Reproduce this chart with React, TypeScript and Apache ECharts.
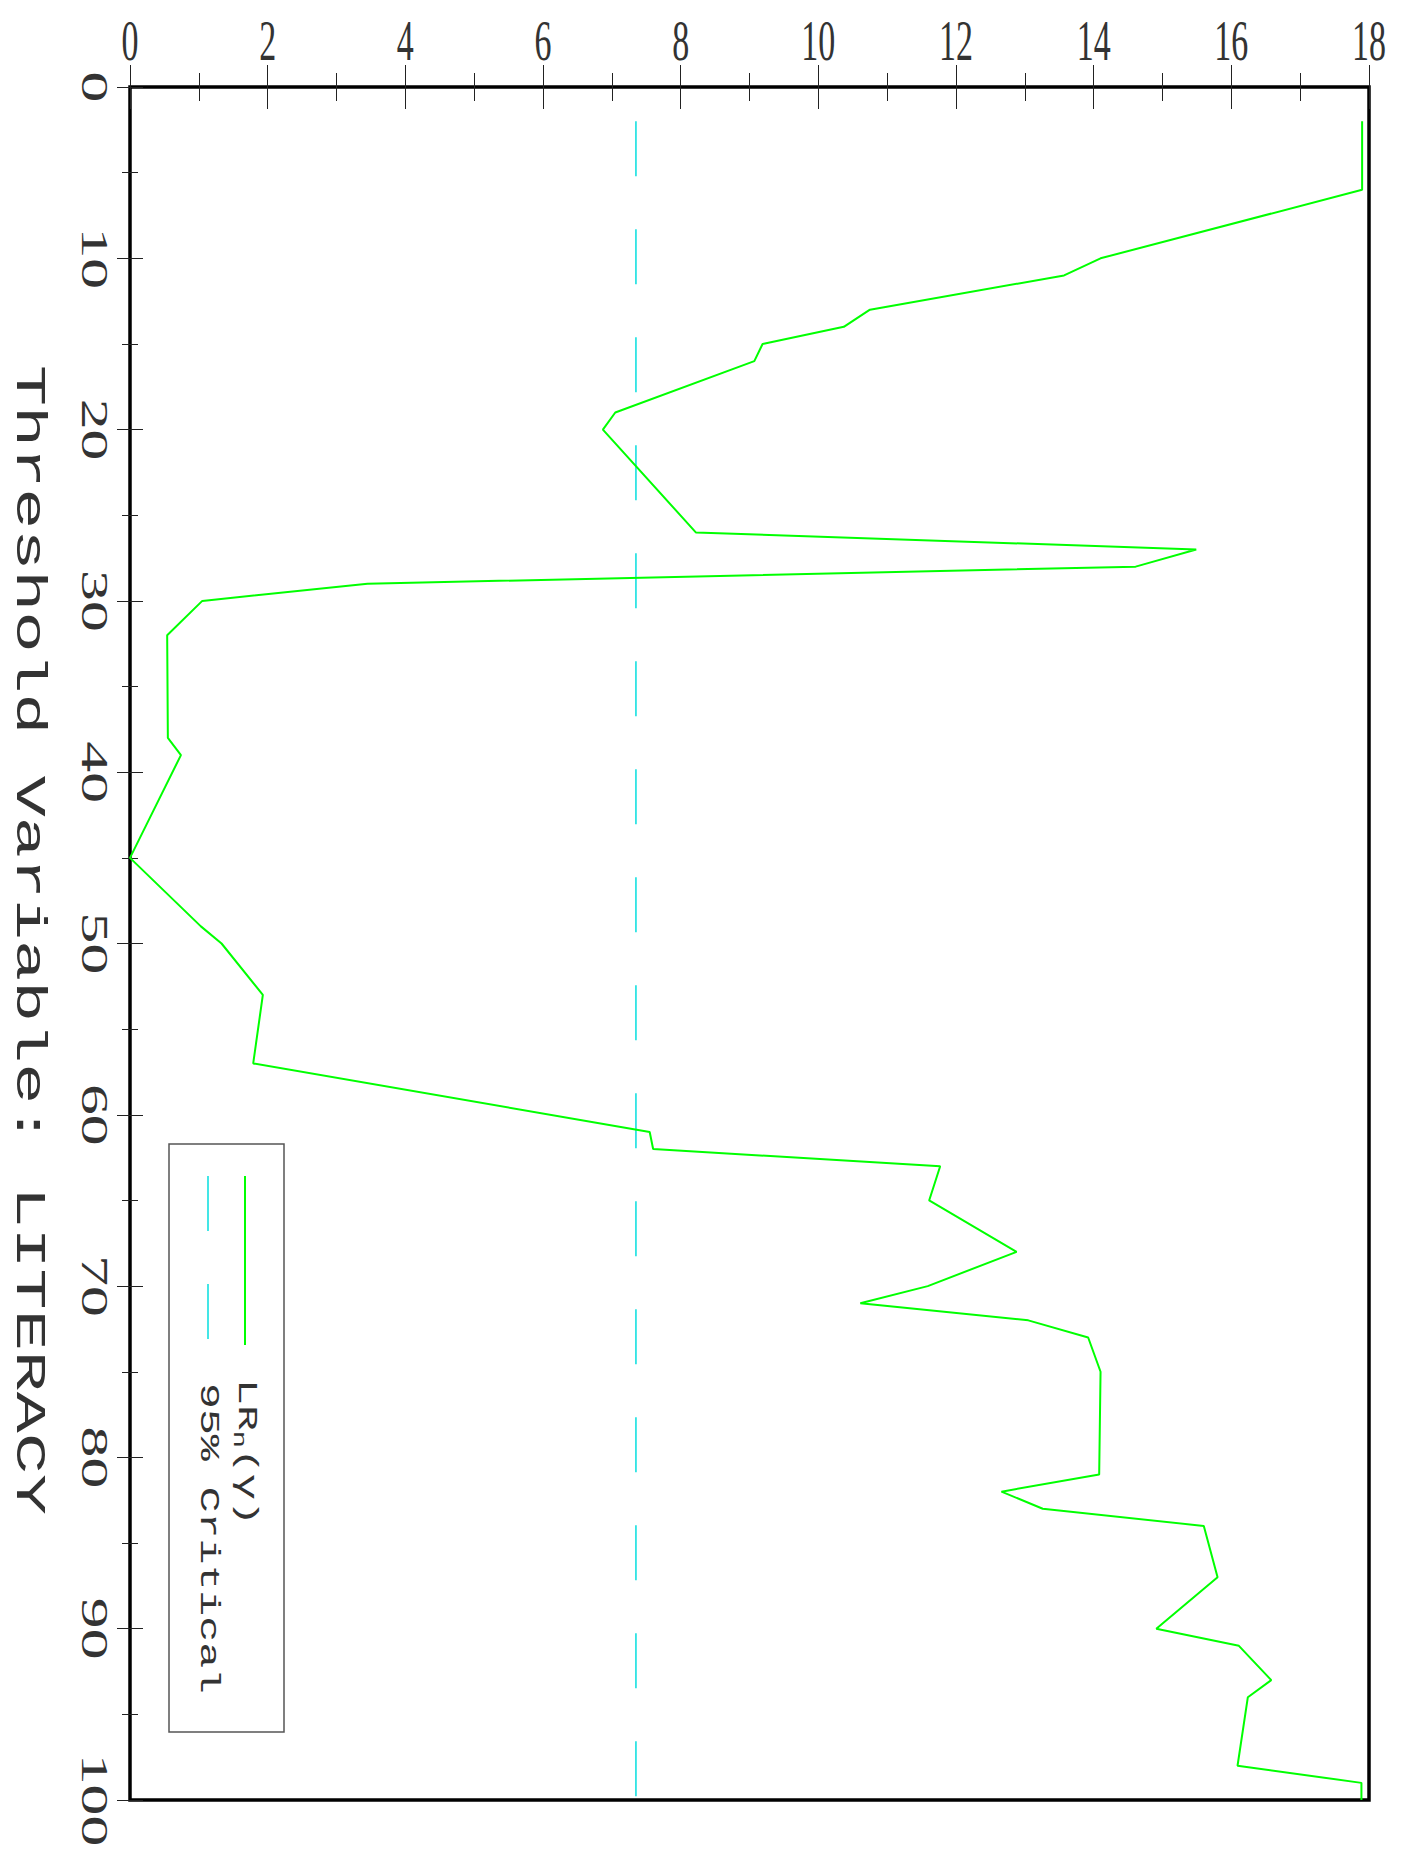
import React, { useEffect, useRef } from "react";
import * as echarts from "echarts";

// Threshold variable values (vertical axis) and LR_n(gamma) statistic (horizontal axis)
const thresholds = [
  2, 6, 10, 11, 13, 14, 15, 16, 19, 20,
  26, 27, 28, 29, 30, 32, 38, 39, 45, 49,
  50, 53, 57, 61, 62, 63, 65, 68, 70, 71,
  72, 73, 75, 81, 82, 83, 84, 87, 90, 91,
  93, 94, 98, 99, 100,
];
const lrValues = [
  17.9, 17.9, 14.1, 13.57, 10.75, 10.37, 9.19, 9.07, 7.05, 6.87,
  8.22, 15.49, 14.61, 3.45, 1.05, 0.54, 0.55, 0.74, 0, 1.03,
  1.33, 1.93, 1.79, 7.55, 7.6, 11.77, 11.61, 12.88, 11.59, 10.61,
  13.05, 13.92, 14.1, 14.08, 12.66, 13.26, 15.6, 15.8, 14.91, 16.11,
  16.58, 16.24, 16.09, 17.89, 17.89,
];
const criticalValue = 7.35;
const criticalRange = [2, 100];

const lrTickLabels = [0, 2, 4, 6, 8, 10, 12, 14, 16, 18];
const thresholdTickLabels = [0, 10, 20, 30, 40, 50, 60, 70, 80, 90, 100];
const axisTitle = "Threshold Variable: LITERACY";
const legendLabels = ["LR{sub|n}(\u03b3)", "95% Critical"];

const GREEN = "#00ff00";
const CYAN = "#30e4e4";

export default function App() {
  const ref = useRef<HTMLDivElement>(null);
  useEffect(() => {
    document.body.style.margin = "0";
    const chart = echarts.init(ref.current!, null, { renderer: "svg" });
    const tickStyle = { color: "#222", width: 1 };
    const xAxisBase = (position: string) => ({
      type: "value",
      position,
      min: 0,
      max: 18,
      interval: 2,
      axisLine: { show: false },
      axisTick: { show: true, inside: true, length: 22, lineStyle: tickStyle },
      minorTick: { show: true, splitNumber: 2, length: 14, lineStyle: tickStyle },
      axisLabel: { show: false },
      splitLine: { show: false },
    });
    const yAxisBase = (position: string) => ({
      type: "value",
      position,
      inverse: true,
      min: 0,
      max: 100,
      interval: 10,
      axisLine: { show: false },
      axisTick: { show: true, inside: true, length: 13, lineStyle: tickStyle },
      minorTick: { show: true, splitNumber: 2, length: 8, lineStyle: tickStyle },
      axisLabel: { show: false },
      splitLine: { show: false },
    });
    chart.setOption({
      animation: false,
      backgroundColor: "#ffffff",
      grid: {
        left: 130,
        top: 87,
        width: 1239,
        height: 1713,
        show: true,
        borderColor: "#000",
        borderWidth: 3.5,
        backgroundColor: "transparent",
      },
      xAxis: [xAxisBase("top"), xAxisBase("bottom")],
      yAxis: [yAxisBase("left"), yAxisBase("right")],
      series: [
        {
          type: "line",
          name: "LR",
          xAxisIndex: 0,
          yAxisIndex: 0,
          data: thresholds.map((t, i) => [lrValues[i], t]),
          symbol: "none",
          lineStyle: { color: GREEN, width: 2 },
          z: 3,
        },
        {
          type: "line",
          name: "95% Critical",
          xAxisIndex: 0,
          yAxisIndex: 0,
          data: criticalRange.map((t) => [criticalValue, t]),
          symbol: "none",
          lineStyle: { color: CYAN, width: 1.8, type: [55, 53] },
          z: 2,
        },
      ],
    });

    const px = (v: number) => chart.convertToPixel({ xAxisIndex: 0 }, v) as number;
    const py = (v: number) => chart.convertToPixel({ yAxisIndex: 0 }, v) as number;
    const textFill = "#333";
    const graphics: any[] = [];
    lrTickLabels.forEach((v) => {
      graphics.push({
        type: "text",
        x: px(v),
        y: 40,
        scaleY: 1.7,
        style: {
          text: String(v),
          x: 0,
          y: 0,
          align: "center",
          verticalAlign: "middle",
          fontSize: 34,
          fontFamily: "Liberation Serif",
          fill: textFill,
        },
      });
    });
    thresholdTickLabels.forEach((v) => {
      graphics.push({
        type: "text",
        x: 94,
        y: py(v),
        rotation: -Math.PI / 2,
        scaleX: 1.67,
        style: {
          text: String(v),
          x: 0,
          y: 0,
          align: "center",
          verticalAlign: "middle",
          fontSize: 37,
          fontFamily: "Liberation Serif",
          fill: textFill,
        },
      });
    });
    graphics.push({
      type: "text",
      x: 28,
      y: 940,
      rotation: -Math.PI / 2,
      scaleX: 1.63,
      style: {
        text: axisTitle,
        x: 0,
        y: 0,
        align: "center",
        verticalAlign: "middle",
        fontSize: 42,
        fontFamily: "Liberation Mono",
        fill: textFill,
      },
    });
    // legend box
    graphics.push({
      type: "rect",
      shape: { x: 169, y: 1144, width: 115, height: 588 },
      style: { fill: "none", stroke: "#555", lineWidth: 1.5 },
    });
    graphics.push({
      type: "line",
      shape: { x1: 245, y1: 1176, x2: 245, y2: 1345 },
      style: { stroke: GREEN, lineWidth: 2 },
    });
    graphics.push({
      type: "line",
      shape: { x1: 208, y1: 1176, x2: 208, y2: 1340 },
      style: { stroke: CYAN, lineWidth: 1.8, lineDash: [55, 53] },
    });
    graphics.push({
      type: "text",
      x: 246,
      y: 1379,
      rotation: -Math.PI / 2,
      scaleX: 1.6,
      style: {
        text: legendLabels[0],
        x: 0,
        y: 0,
        align: "left",
        verticalAlign: "middle",
        fontSize: 27,
        fontFamily: "Liberation Mono",
        fill: textFill,
        rich: {
          sub: {
            fontSize: 18,
            fontFamily: "Liberation Mono",
            fill: textFill,
            padding: [14, 0, 0, 0],
            verticalAlign: "bottom",
          },
        },
      },
    });
    graphics.push({
      type: "text",
      x: 208,
      y: 1383,
      rotation: -Math.PI / 2,
      scaleX: 1.6,
      style: {
        text: legendLabels[1],
        x: 0,
        y: 0,
        align: "left",
        verticalAlign: "middle",
        fontSize: 27,
        fontFamily: "Liberation Mono",
        fill: textFill,
      },
    });
    chart.setOption({ graphic: graphics });
    return () => chart.dispose();
  }, []);
  return <div ref={ref} style={{ width: 1405, height: 1870 }} />;
}
